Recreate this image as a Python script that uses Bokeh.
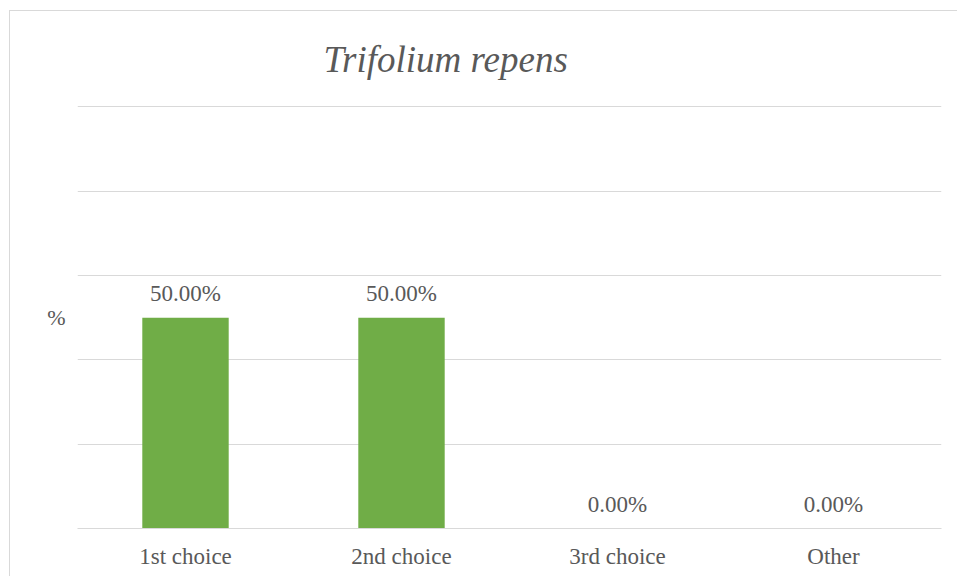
from bokeh.plotting import figure
from bokeh.models import ColumnDataSource, FactorRange, Range1d, FixedTicker, LabelSet
from bokeh.embed import file_html
from bokeh.resources import INLINE

title_text = "Trifolium repens"
y_label = "%"
categories = ["1st choice", "2nd choice", "3rd choice", "Other"]
values = [50.0, 50.0, 0.0, 0.0]
grid_ticks = [0, 20, 40, 60, 80, 100]

labels = [f"{v:.2f}%" for v in values]
src = ColumnDataSource(data=dict(cat=categories, val=values, lab=labels))

FONT = "Liberation Serif"
TXT = "#595959"

p = figure(width=948, height=566, x_range=FactorRange(*categories, range_padding=0),
           y_range=Range1d(0, 100.3), output_backend="svg", toolbar_location=None,
           min_border_left=67, min_border_right=17, min_border_top=94, min_border_bottom=49)
p.margin = (10, 0, 0, 9)
p.styles = {"border-left": "1px solid #d9d9d9", "border-top": "1px solid #d9d9d9"}

p.vbar(x="cat", top="val", width=0.4, source=src, fill_color="#70ad47", line_color=None)

p.outline_line_color = None
p.xgrid.grid_line_color = None

# y axis: only the "%" caption, placed at mid-height
ya = p.yaxis[0]
ya.ticker = FixedTicker(ticks=[50])
ya.major_label_overrides = {50: y_label}
ya.axis_line_color = None
ya.major_tick_line_color = None
ya.minor_tick_line_color = None
ya.major_tick_out = 0
ya.major_tick_in = 0
ya.major_label_standoff = 12
ya.major_label_text_font = FONT
ya.major_label_text_font_size = "22px"
ya.major_label_text_color = TXT

p.ygrid.ticker = FixedTicker(ticks=grid_ticks)
p.ygrid.grid_line_color = "#d9d9d9"
p.ygrid.grid_line_width = 1

xa = p.xaxis[0]
xa.axis_line_color = "#d9d9d9"
xa.major_tick_line_color = None
xa.minor_tick_line_color = None
xa.major_tick_out = 0
xa.major_tick_in = 0
xa.major_label_text_font = FONT
xa.major_label_text_font_size = "23px"
xa.major_label_text_color = TXT
xa.major_label_standoff = 15

ls = LabelSet(x="cat", y="val", text="lab", source=src, y_offset=17,
              text_align="center", text_baseline="alphabetic",
              text_font=FONT, text_font_size="23px", text_color=TXT)
p.add_layout(ls)

p.title.text = title_text
p.title.align = "left"
p.title.offset = 246
p.title.standoff = 50
p.title.vertical_align = "middle"
p.title.text_font = FONT
p.title.text_font_style = "italic"
p.title.text_font_size = "37px"
p.title.text_color = TXT

open("out.html", "w").write(file_html(p, INLINE))
